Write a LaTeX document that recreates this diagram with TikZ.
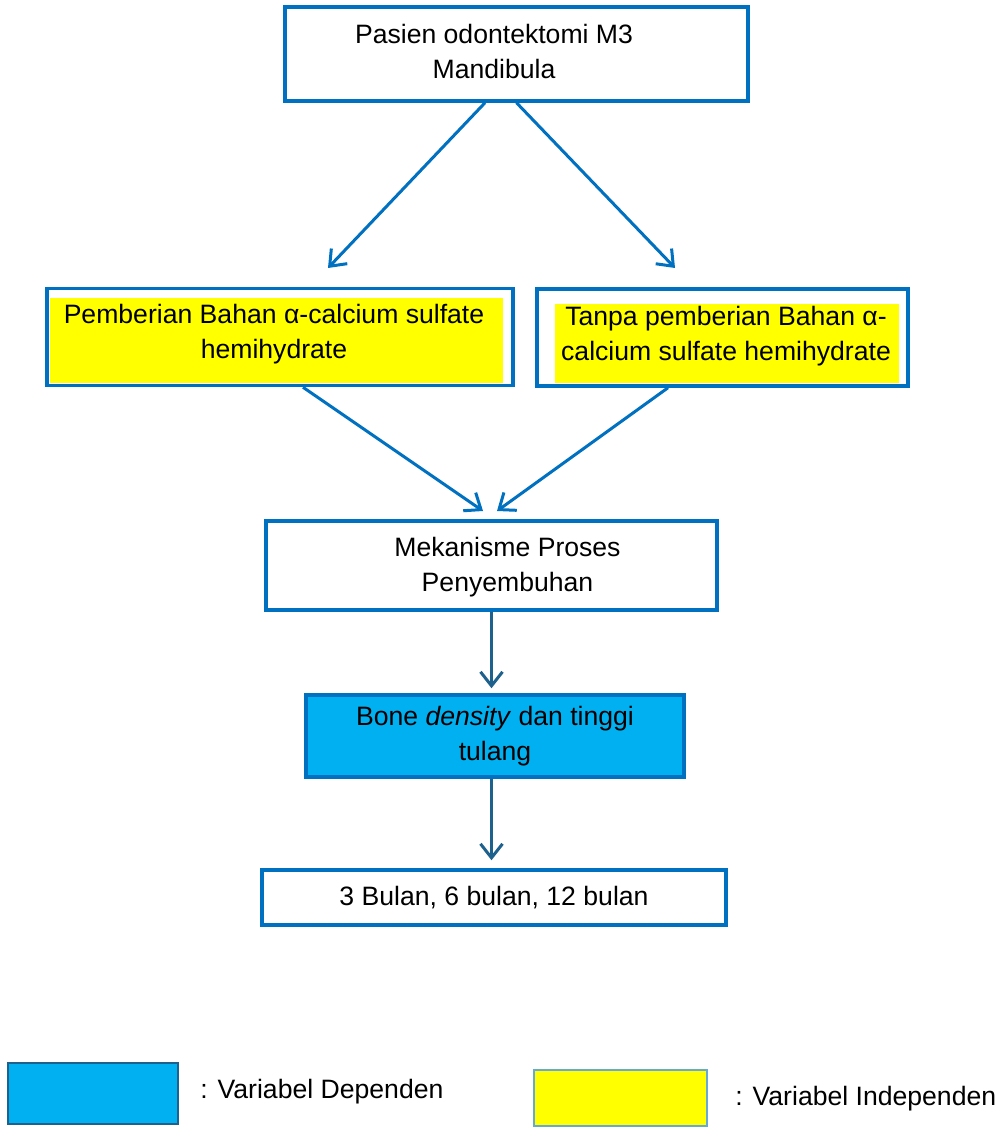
\documentclass[tikz,border=0pt]{standalone}
\usepackage{fontspec}
\setmainfont{Liberation Sans}
\usetikzlibrary{arrows.meta}
\definecolor{boxblue}{RGB}{0,112,192}
\definecolor{depblue}{RGB}{0,176,240}
\definecolor{arrdark}{RGB}{31,97,141}
\definecolor{indyel}{RGB}{255,255,0}

\begin{document}
\begin{tikzpicture}[x=0.5pt, y=-0.5pt, line join=miter,
  box/.style={draw=boxblue, line width=1.75pt, inner sep=0pt, align=center,
    font=\fontsize{13.3}{17.5}\selectfont},
  boxtext/.style={inner sep=0pt, align=center, font=\fontsize{13.3}{17.5}\selectfont},
  arr/.style={draw=boxblue, line width=1.5pt, -{Straight Barb[length=7pt, width=11pt, line width=1.5pt]}},
  arrd/.style={arr, draw=arrdark},
  legtext/.style={anchor=west, inner sep=0pt, font=\fontsize{13.3}{17.5}\selectfont}]
\useasboundingbox (0,0) rectangle (997,1127);
% yellow fills inside the two treatment boxes
\fill[indyel] (50,298) rectangle (503,383);
\fill[indyel] (555,304) rectangle (899,383);
% boxes
\node[box, minimum width=231.5pt, minimum height=47pt] (top) at (516.5,54) {};
\node[boxtext] (toptext) at (494,52) {Pasien odontektomi M3\\Mandibula};
\node[box, minimum width=233pt, minimum height=48.5pt] (lbox) at (280,337) {};
\node[boxtext] (lboxtext) at (274,334) {Pemberian Bahan α-calcium sulfate\\hemihydrate};
\node[box, minimum width=185.5pt, minimum height=48.5pt] (rbox) at (722.5,337.5) {};
\node[boxtext] (rboxtext) at (726,336) {Tanpa pemberian Bahan α-\\calcium sulfate hemihydrate};
\node[box, minimum width=225.5pt, minimum height=44.5pt] (mid) at (491.5,565.5) {};
\node[boxtext] (midtext) at (507.5,567) {Mekanisme Proses\\Penyembuhan};
\node[box, fill=depblue, minimum width=189pt, minimum height=41pt] (dep) at (495,736)
  {Bone \textit{density} dan tinggi\\tulang};
\node[box, minimum width=232pt, minimum height=27.5pt] (time) at (494,897.5)
  {3 Bulan, 6 bulan, 12 bulan};
% arrow ends
\coordinate (e1) at (328,268);
\coordinate (e2) at (675,268);
\coordinate (e3) at (483,511);
\coordinate (e4) at (497,511);
\draw[arr] ([xshift=-15.75pt]top.south) -- (e1);
\draw[arr] (top.south) -- (e2);
\draw[arr] ([xshift=11.5pt]lbox.south) -- (e3);
\draw[arr] ([xshift=-27.25pt]rbox.south) -- (e4);
\draw[arrd, shorten >=2.5pt] (mid.south) -- (mid.south |- dep.north);
\draw[arrd, shorten >=4pt] (mid.south |- dep.south) -- (mid.south |- time.north);
% legend
\node[draw=arrdark, line width=1pt, fill=depblue, minimum width=85pt, minimum height=30.5pt,
  inner sep=0pt] (legdep) at (93,1093.5) {};
\node[legtext] (legdeptext) at (200,1092) {: Variabel Dependen};
\node[draw=boxblue!60, line width=1pt, fill=indyel, minimum width=86.5pt, minimum height=28pt,
  inner sep=0pt] (legind) at (620.5,1098) {};
\node[legtext] (legindtext) at (735,1099) {: Variabel Independen};
\end{tikzpicture}
\end{document}
